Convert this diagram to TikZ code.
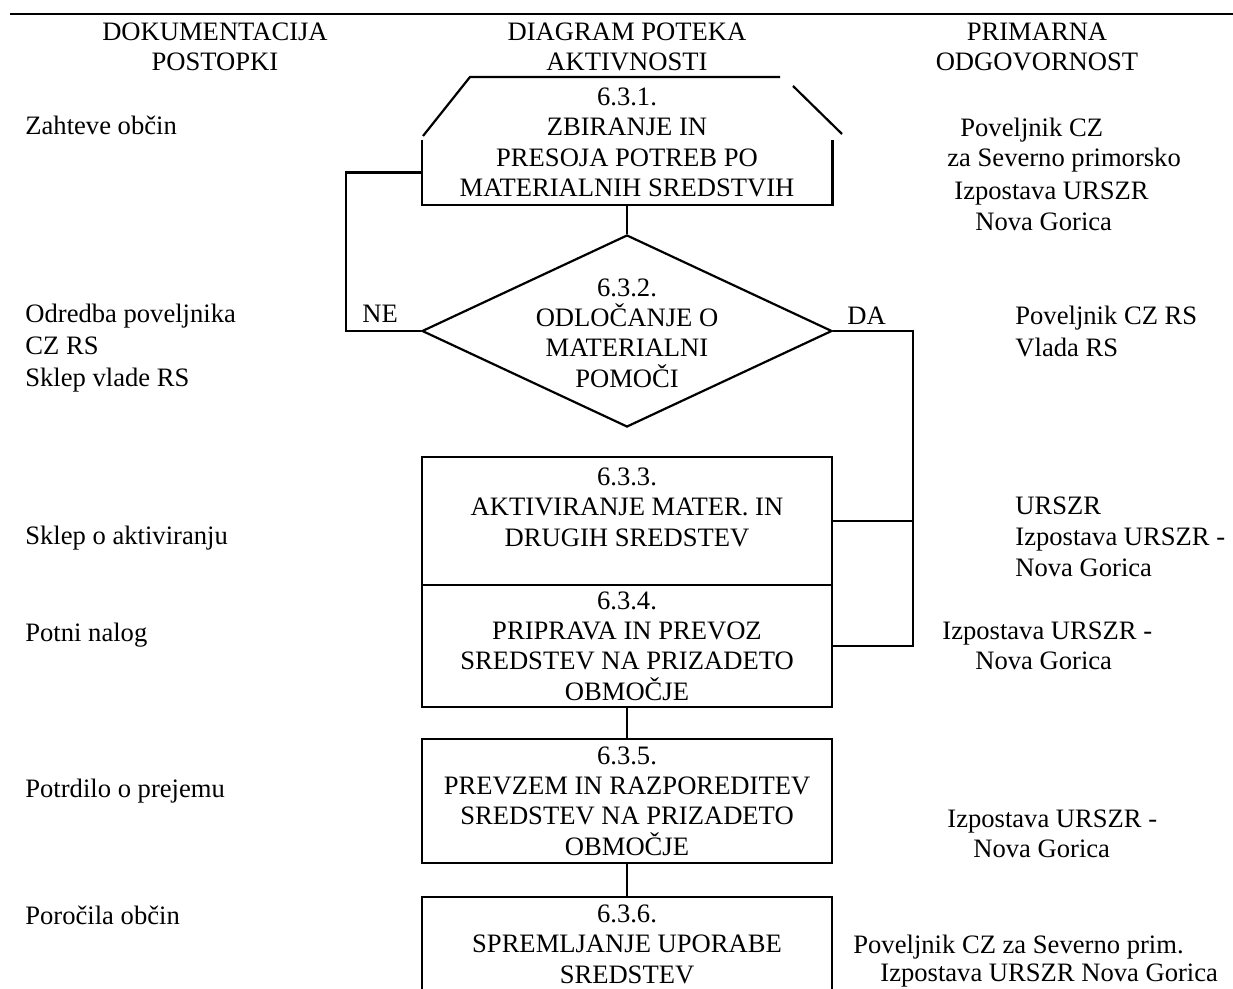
\documentclass[tikz,border=0pt]{standalone}
\usepackage{fontspec}
\setmainfont{Liberation Serif}
\usepackage{tikz}
\usetikzlibrary{shapes.geometric}
\tikzset{
  stepbox/.style={draw, line width=1.1pt, minimum width=205pt, inner sep=0pt, align=center},
  decision/.style={diamond, draw, line width=1.1pt, minimum width=205pt, minimum height=96pt, inner sep=0pt},
  blocktext/.style={align=center, inner sep=0pt},
  sidetext/.style={anchor=west, inner sep=0pt, text height=0.68em, text depth=0.22em, yshift=-2.5pt},
  flow/.style={line width=1.1pt}
}

\begin{document}
\begin{tikzpicture}[x=0.5pt,y=-0.5pt,line join=miter,font=\fontsize{13.3}{15.2}\selectfont]
\useasboundingbox (0,0) rectangle (1233,989);
% column heads
\draw[line width=1.3pt] (10,14) -- (1233,14);
\node[blocktext] (hdoc) at (215,47) {DOKUMENTACIJA\\POSTOPKI};
\node[blocktext] (hdia) at (627,47) {DIAGRAM POTEKA\\AKTIVNOSTI};
\node[blocktext] (hodg) at (1037,47) {PRIMARNA\\ODGOVORNOST};

% 6.3.1 open box with hood
\node[minimum width=205pt, minimum height=32.5pt, inner sep=0pt] (b631) at (627,172.5) {};
\draw[flow] (b631.north west) -- (b631.south west) -- (b631.south east) -- (b631.north east);
\draw[flow] (423,136) -- (470,77) -- (780,77);
\draw[flow] (793,86) -- (842,134);
\node[blocktext] (t631) at (627,142.5) {6.3.1.\\ZBIRANJE IN\\PRESOJA POTREB PO\\MATERIALNIH SREDSTVIH};

% 6.3.2 decision
\node[decision] (d632) at (627,331) {};
\node[blocktext] (t632) at (627,333) {6.3.2.\\ODLOČANJE O\\MATERIALNI\\POMOČI};
\node[sidetext] (ne) at (362,313) {NE};
\node[sidetext] (da) at (847,315) {DA};
\draw[flow] (b631.south) -- (d632.north);

% 6.3.3 -- 6.3.6
\node[stepbox, minimum height=64pt] (b633) at (627,521) {};
\node[blocktext] (t633) at (627,507) {6.3.3.\\AKTIVIRANJE MATER. IN\\DRUGIH SREDSTEV};
\node[stepbox, minimum height=61pt] (b634) at (627,646) {6.3.4.\\PRIPRAVA IN PREVOZ\\SREDSTEV NA PRIZADETO\\OBMOČJE};
\node[stepbox, minimum height=62pt] (b635) at (627,801) {6.3.5.\\PREVZEM IN RAZPOREDITEV\\SREDSTEV NA PRIZADETO\\OBMOČJE};
\draw[flow] (b634.south) -- (b635.north);
% last box runs past the lower edge
\begin{scope}
\clip (0,0) rectangle (1233,989);
\node[stepbox, minimum height=47pt] (b636) at (627,944) {6.3.6.\\SPREMLJANJE UPORABE\\SREDSTEV};
\end{scope}
\draw[flow] (b635.south) -- (b636.north);

% NE / DA loops
\coordinate (neturn) at (346,331);
\coordinate (daturn) at (913,331);
\draw[flow] (d632.west) -- (neturn) |- (b631.west);
\draw[flow] (d632.east) -- (daturn) |- (b634.east);
\draw[flow] (b633.east) -- (b633.east -| daturn);

% documentation column
\foreach \y/\t [count=\i] in {125/Zahteve občin, 313/Odredba poveljnika, 345/CZ RS, 377/Sklep vlade RS,
    535/Sklep o aktiviranju, 632/Potni nalog, 788/Potrdilo o prejemu, 915/Poročila občin}
  \node[sidetext] (doc\i) at (25,\y) {\t};

% responsibility column
\foreach \x/\y/\t [count=\i] in {960/127/Poveljnik CZ, 947/157/za Severno primorsko, 954/190/Izpostava URSZR,
    975/221/Nova Gorica, 1015/315/Poveljnik CZ RS, 1015/347/Vlada RS, 1015/505/URSZR,
    1015/536/Izpostava URSZR -, 1015/567/Nova Gorica, 942/630/Izpostava URSZR -, 975/660/Nova Gorica,
    947/818/Izpostava URSZR -, 973/848/Nova Gorica, 853/944/Poveljnik CZ za Severno prim.,
    880/972/Izpostava URSZR Nova Gorica}
  \node[sidetext] (resp\i) at (\x,\y) {\t};
\end{tikzpicture}
\end{document}
